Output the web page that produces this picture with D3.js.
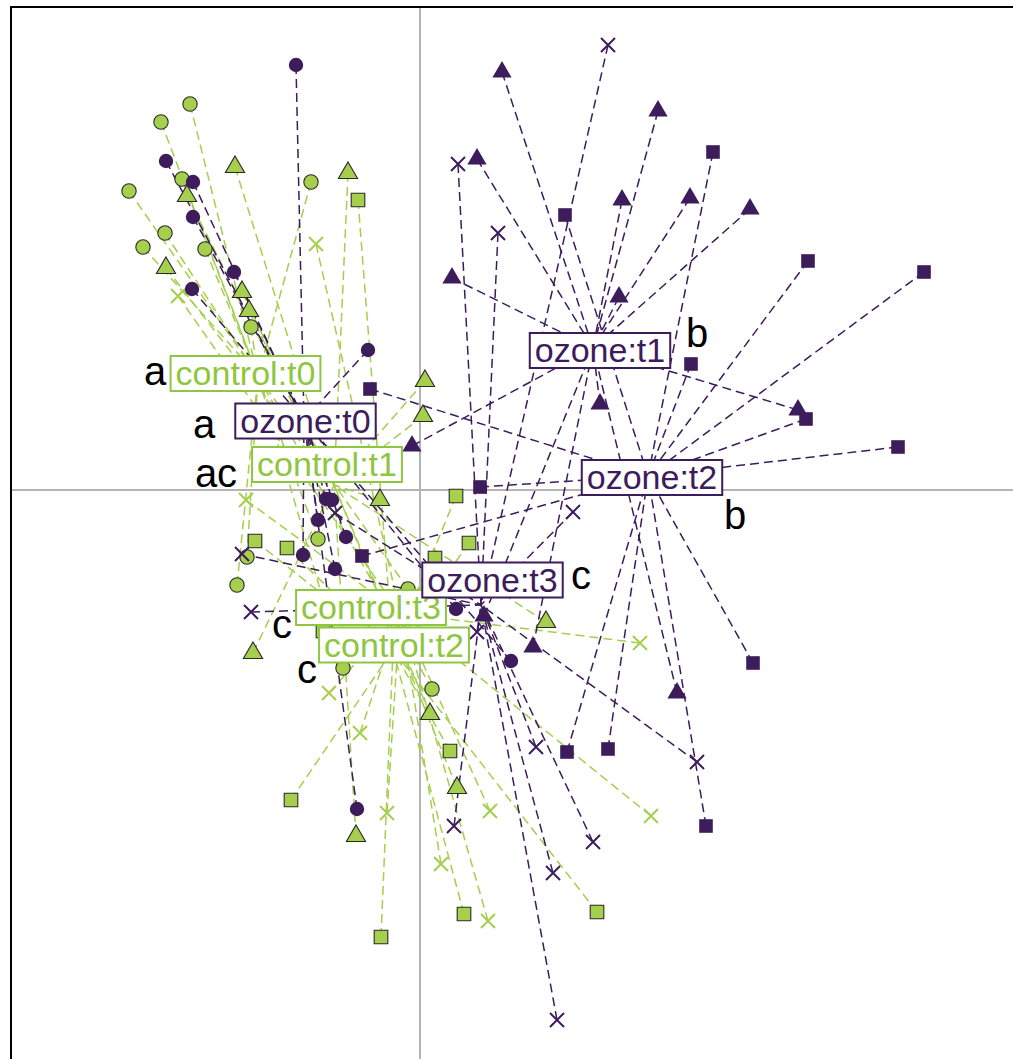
<!DOCTYPE html>
<html>
<head>
<meta charset="utf-8">
<script src="https://cdn.jsdelivr.net/npm/d3@7"></script>
<style>
  body { margin: 0; background: #fff; }
  svg { display: block; font-family: "Liberation Sans", Arial, Helvetica, sans-serif; }
</style>
</head>
<body>
<script>
// groups (treatment x time)
var groupNames = ["control:t0","control:t1","control:t2","control:t3","ozone:t0","ozone:t1","ozone:t2","ozone:t3"];
var groupTreatment = ["control","control","control","control","ozone","ozone","ozone","ozone"];
var groupTime = [0,1,2,3,0,1,2,3];

// class centroids (axis 1, axis 2)
var centroidX = [-1.62, -0.86, -0.27, -0.20, -1.16, 1.73, 2.28, 0.61];
var centroidY = [ 1.14,  0.05, -1.60, -1.23,  0.70, 1.42, 0.14, -1.15];

// where the class labels ended up
var labelX = [-1.745, -0.93, -0.26, -0.49, -1.145, 1.80, 2.32, 0.725];
var labelY = [ 1.17,   0.26, -1.545, -1.17, 0.695, 1.40, 0.13, -0.895];

// post-hoc letters
var letters = ["a","ac","c","c","a","b","b","c"];
var letterX = [-2.65, -2.04, -1.13, -1.38, -2.16, 2.77, 3.15, 1.61];
var letterY = [ 1.05,  0.03, -1.93, -1.48,  0.52, 1.43, -0.39, -0.99];

// sample scores per class
var controlT0 = [[-2.30,3.86],[-2.59,3.68],[-2.38,3.11],[-2.91,2.99],[-1.09,3.08],[-2.55,2.57],[-2.77,2.43],
  [-2.15,2.41],[-1.69,1.63],[-1.02,-0.49],[-1.73,-0.67],[-1.83,-0.95],[-0.77,-1.78],[0.12,-1.99],[-0.12,-0.99]];
var controlT1 = [[-1.85,3.23],[-2.33,2.94],[-2.54,2.22],[-1.78,1.98],[-1.71,1.79],[-0.72,3.17],[0.05,1.09],
  [0.03,0.74],[-0.40,-0.10],[-1.67,-1.63],[0.10,-2.24],[0.37,-2.98],[-0.64,-3.46],[1.26,-1.32]];
var controlT2 = [[-0.62,2.90],[-1.65,-0.51],[-1.33,-0.58],[-0.97,-1.41],[0.36,-0.06],[0.49,-0.53],[0.15,-0.68],
  [0.30,-2.61],[-1.29,-3.10],[0.44,-4.24],[-0.39,-4.47],[1.77,-4.22]];
var controlT3 = [[-1.04,2.46],[-2.42,1.94],[-1.74,-0.10],[2.20,-1.53],[-0.91,-2.03],[-0.60,-2.43],[-0.33,-3.23],
  [0.21,-3.74],[0.70,-3.21],[0.68,-4.31],[2.31,-3.26]];
var ozoneT0 = [[-1.24,4.25],[-2.54,3.29],[-2.27,3.08],[-2.27,2.73],[-1.86,2.18],[-2.28,2.01],[-0.52,1.40],
  [-0.94,-0.09],[-0.88,-0.10],[-1.02,-0.30],[-0.74,-0.47],[-1.17,-0.65],[-0.85,-0.79],[0.36,-1.19],[0.91,-1.71],[-0.63,-3.19]];
var ozoneT1 = [[0.82,4.18],[2.38,3.79],[0.57,3.31],[2.02,2.90],[2.70,2.92],[3.30,2.81],[0.32,2.12],
  [1.99,1.93],[1.80,0.86],[3.78,0.80],[-0.08,0.44],[0.64,-1.26],[1.13,-1.57],[2.57,-2.03]];
var ozoneT2 = [[2.93,3.38],[1.45,2.75],[3.88,2.29],[5.04,2.18],[2.71,1.26],[-0.50,1.01],[3.86,0.71],
  [4.78,0.43],[0.60,0.03],[-0.58,-0.66],[3.33,-1.73],[1.47,-2.62],[1.88,-2.59],[2.86,-3.36]];
var ozoneT3 = [[1.88,4.45],[0.38,3.26],[0.78,2.57],[1.53,-0.22],[-0.85,-0.23],[-1.78,-0.64],[-1.69,-1.22],
  [0.57,-1.42],[1.16,-2.57],[2.77,-2.72],[0.34,-3.36],[1.73,-3.52],[1.33,-3.83],[1.37,-5.30]];

var groupPoints = [controlT0, controlT1, controlT2, controlT3, ozoneT0, ozoneT1, ozoneT2, ozoneT3];

var width = 1013, height = 1059;
var xlim = [-4.09, 6.10], ylim = [-5.85, 4.83];

var colors = {control: "#a5cf4c", ozone: "#3d1c5c"};
var labelColors = {control: "#8fc641", ozone: "#3d1c5c"};

var svg = d3.select("body").append("svg")
    .attr("width", width)
    .attr("height", height);

var x = d3.scaleLinear().domain(xlim).range([11, 1030]);
var y = d3.scaleLinear().domain([ylim[1], ylim[0]]).range([7, 1075]);

// axes through the origin
svg.append("line")
  .attr("x1", x(xlim[0])).attr("x2", x(xlim[1]))
  .attr("y1", y(0)).attr("y2", y(0))
  .style("stroke", "#b4b4b4").style("stroke-width", 2);
svg.append("line")
  .attr("x1", x(0)).attr("x2", x(0))
  .attr("y1", y(ylim[0])).attr("y2", y(ylim[1]))
  .style("stroke", "#b4b4b4").style("stroke-width", 2);

// flatten into one list of samples
var samples = [];
groupPoints.forEach(function(pts, g){
  pts.forEach(function(p){
    samples.push({g: g, x: p[0], y: p[1]});
  });
});

// stars: sample -> class centroid
svg.append("g").selectAll(".star")
    .data(samples)
  .enter().append("line")
    .attr("class", "star")
    .attr("x1", function(d){ return x(d.x); })
    .attr("y1", function(d){ return y(d.y); })
    .attr("x2", function(d){ return x(centroidX[d.g]); })
    .attr("y2", function(d){ return y(centroidY[d.g]); })
    .style("stroke", function(d){ return colors[groupTreatment[d.g]]; })
    .style("stroke-width", 1.5)
    .style("stroke-dasharray", "9,5");

// one symbol per time point
var symbolPaths = [
  d3.symbol().type(d3.symbolCircle).size(Math.PI*7.2*7.2)(),
  d3.symbol().type(d3.symbolTriangle).size(160)(),
  d3.symbol().type(d3.symbolSquare).size(185)(),
  "M-7,-7L7,7M-7,7L7,-7"
];

svg.append("g").selectAll(".pt")
    .data(samples)
  .enter().append("path")
    .attr("class", "pt")
    .attr("transform", function(d){ return "translate(" + x(d.x) + "," + y(d.y) + ")"; })
    .attr("d", function(d){ return symbolPaths[groupTime[d.g]]; })
    .style("fill", function(d){
      return groupTime[d.g] == 3 ? "none" : colors[groupTreatment[d.g]];
    })
    .style("stroke", function(d){
      var isCtl = groupTreatment[d.g] == "control";
      if(groupTime[d.g] == 3) return colors[groupTreatment[d.g]];
      return isCtl ? "#2a2a2a" : "none";
    })
    .style("stroke-width", function(d){ return groupTime[d.g] == 3 ? 2 : 1.1; });

// class labels
var labels = svg.append("g").selectAll(".lab")
    .data(groupNames)
  .enter().append("g")
    .attr("class", "lab")
    .attr("transform", function(d, i){ return "translate(" + x(labelX[i]) + "," + y(labelY[i]) + ")"; });

labels.append("text")
  .attr("text-anchor", "middle")
  .attr("y", 12)
  .style("font-size", "34px")
  .style("fill", function(d, i){ return labelColors[groupTreatment[i]]; })
  .text(String);

labels.each(function(d, i){
  var g = d3.select(this);
  var w = g.select("text").node().getBBox().width;
  g.insert("rect", "text")
    .attr("x", -w/2 - 5)
    .attr("y", -17)
    .attr("width", w + 10)
    .attr("height", 35)
    .style("fill", "#fff")
    .style("stroke", labelColors[groupTreatment[i]])
    .style("stroke-width", 2);
});

// significance letters
svg.append("g").selectAll(".letter")
    .data(letters)
  .enter().append("text")
    .attr("class", "letter")
    .attr("text-anchor", "middle")
    .attr("x", function(d, i){ return x(letterX[i]); })
    .attr("y", function(d, i){ return y(letterY[i]); })
    .style("font-size", "40px")
    .style("fill", "#000")
    .text(String);

// frame
svg.append("rect")
  .attr("x", x(xlim[0])).attr("y", y(ylim[1]))
  .attr("width", x(xlim[1]) - x(xlim[0]))
  .attr("height", y(ylim[0]) - y(ylim[1]))
  .style("fill", "none")
  .style("stroke", "#000")
  .style("stroke-width", 2);
</script>
</body>
</html>
